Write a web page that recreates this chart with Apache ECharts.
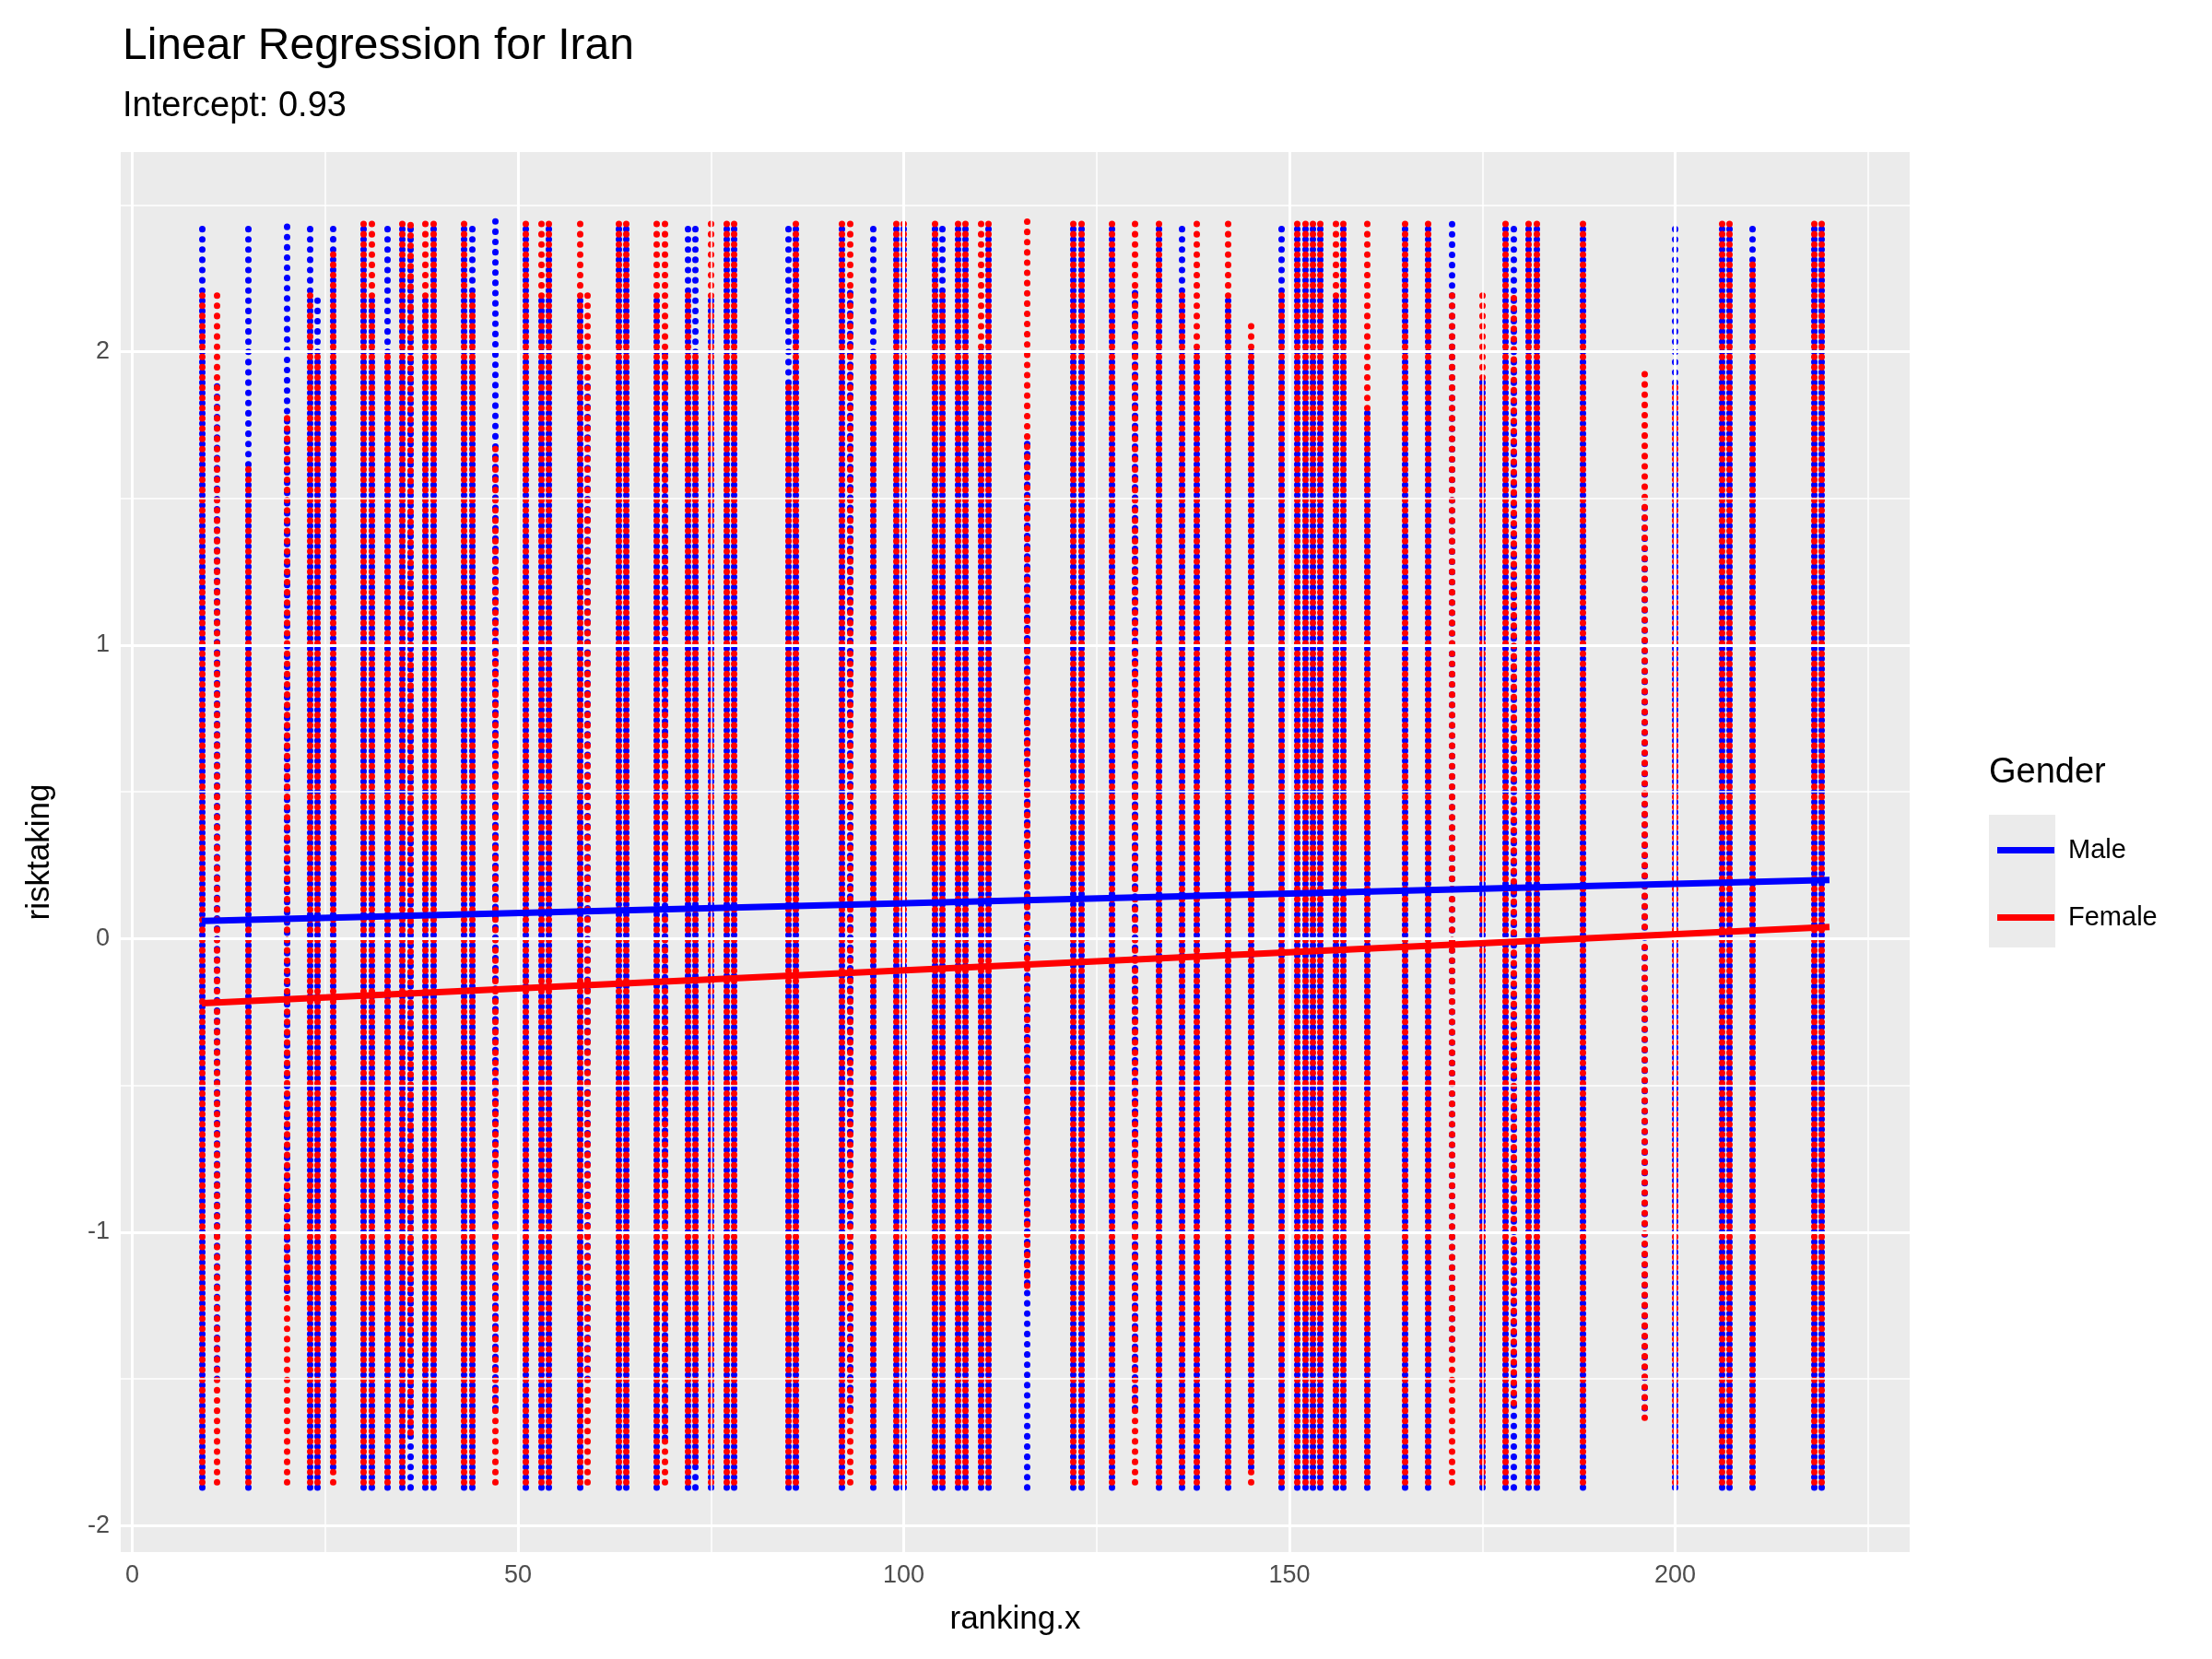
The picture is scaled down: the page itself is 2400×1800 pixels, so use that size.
<!DOCTYPE html>
<html>
<head>
<meta charset="utf-8">
<script src="https://cdn.jsdelivr.net/npm/echarts@6/dist/echarts.min.js"></script>
<style>
  html, body { margin: 0; padding: 0; background: #fff; }
  #chart { width: 2400px; height: 1800px; }
</style>
</head>
<body>
<div id="chart"></div>
<script>
// ranking.x columns and the risktaking spread of each gender in them
const rankings = [9, 11, 15, 20, 23, 24, 26, 30, 31, 33, 35, 36, 38, 39, 43, 44, 47, 51, 53, 54,
  58, 59, 63, 64, 68, 69, 72, 73, 75, 77, 78, 85, 86, 92, 93, 96, 99, 100, 104, 105,
  107, 108, 110, 111, 116, 122, 123, 127, 130, 133, 136, 138, 142, 145, 149, 151, 152, 153, 154, 156,
  157, 160, 165, 168, 171, 175, 178, 179, 181, 182, 188, 196, 200, 206, 207, 210, 218, 219];
const maleMin = [-1.87, -1.5, -1.87, -1.2, -1.87, -1.87, -1.8, -1.87, -1.87, -1.87, -1.87, -1.87, -1.87, -1.87, -1.87, -1.87, -1.6, -1.87, -1.87, -1.87,
  -1.87, -1.5, -1.87, -1.87, -1.87, -1.7, -1.87, -1.87, -1.87, -1.87, -1.87, -1.87, -1.87, -1.87, -1.6, -1.87, -1.87, -1.87, -1.87, -1.87,
  -1.87, -1.87, -1.87, -1.87, -1.87, -1.87, -1.87, -1.87, -1.6, -1.87, -1.87, -1.87, -1.87, -1.8, -1.87, -1.87, -1.87, -1.87, -1.87, -1.87,
  -1.87, -1.87, -1.87, -1.87, -1.4, -1.87, -1.87, -1.87, -1.87, -1.87, -1.87, -1.6, -1.87, -1.87, -1.87, -1.87, -1.87, -1.87];
const maleMax = [2.45, 1.9, 2.45, 2.45, 2.45, 2.2, 2.45, 2.45, 2.2, 2.45, 2.45, 2.45, 2.2, 2.45, 2.45, 2.45, 2.45, 2.45, 2.2, 2.45,
  2.2, 1.9, 2.45, 2.45, 2.2, 2.0, 2.45, 2.45, 2.2, 2.45, 2.45, 2.45, 2.45, 2.45, 2.2, 2.45, 2.45, 2.45, 2.45, 2.45,
  2.45, 2.45, 2.0, 2.45, 1.7, 2.45, 2.45, 2.45, 2.2, 2.45, 2.45, 2.0, 2.2, 2.0, 2.45, 2.45, 2.45, 2.45, 2.45, 2.2,
  2.45, 1.8, 2.45, 2.45, 2.45, 1.9, 2.45, 2.45, 2.45, 2.45, 2.45, 1.5, 2.45, 2.45, 2.45, 2.45, 2.45, 2.45];
const femaleMin = [-1.87, -1.87, -1.87, -1.87, -1.87, -1.87, -1.87, -1.87, -1.87, -1.87, -1.87, -1.7, -1.87, -1.87, -1.87, -1.87, -1.87, -1.87, -1.87, -1.87,
  -1.87, -1.87, -1.87, -1.87, -1.87, -1.87, -1.87, -1.8, -1.87, -1.87, -1.87, -1.87, -1.87, -1.87, -1.87, -1.87, -1.87, -1.87, -1.87, -1.87,
  -1.87, -1.87, -1.87, -1.87, -1.2, -1.87, -1.87, -1.87, -1.87, -1.87, -1.87, -1.87, -1.87, -1.87, -1.87, -1.87, -1.87, -1.87, -1.87, -1.87,
  -1.87, -1.87, -1.87, -1.87, -1.87, -1.87, -1.87, -1.6, -1.87, -1.87, -1.87, -1.65, -1.87, -1.87, -1.87, -1.87, -1.87, -1.87];
const femaleMax = [2.2, 2.2, 1.6, 1.8, 2.2, 2.0, 2.35, 2.45, 2.45, 2.0, 2.45, 2.45, 2.45, 2.45, 2.45, 2.2, 1.7, 2.45, 2.45, 2.45,
  2.45, 2.2, 2.45, 2.45, 2.45, 2.45, 2.2, 2.0, 2.45, 2.45, 2.45, 1.9, 2.45, 2.45, 2.45, 2.0, 2.45, 2.45, 2.45, 2.2,
  2.45, 2.45, 2.45, 2.45, 2.45, 2.45, 2.45, 2.45, 2.45, 2.45, 2.2, 2.45, 2.45, 2.1, 2.2, 2.45, 2.45, 2.45, 2.45, 2.45,
  2.45, 2.45, 2.45, 2.45, 2.2, 2.2, 2.45, 2.2, 2.45, 2.45, 2.45, 1.95, 1.9, 2.45, 2.45, 2.3, 2.45, 2.45];

// fitted lines: [x, y] at the ends
const maleFit = [[9, 0.06], [220, 0.2]];
const femaleFit = [[9, -0.22], [220, 0.04]];

const xMajor = [0, 50, 100, 150, 200];
const xMinor = [25, 75, 125, 175, 225];
const yMajor = [-2, -1, 0, 1, 2];
const yMinor = [-1.5, -0.5, 0.5, 1.5, 2.5];

const chart = echarts.init(document.getElementById('chart'));

function columns(mins, maxs) {
    return rankings.map((x, i) => ({ coords: [[x, mins[i]], [x, maxs[i]]] }));
}

const gridLines = [];
xMinor.forEach(v => gridLines.push({ xAxis: v, lineStyle: { width: 1.5 } }));
yMinor.forEach(v => gridLines.push({ yAxis: v, lineStyle: { width: 1.5 } }));
xMajor.forEach(v => gridLines.push({ xAxis: v, lineStyle: { width: 3 } }));
yMajor.forEach(v => gridLines.push({ yAxis: v, lineStyle: { width: 3 } }));

const font = 'Liberation Sans, Arial, sans-serif';

const option = {
    animation: false,
    backgroundColor: '#ffffff',
    title: {
        text: 'Linear Regression for Iran',
        subtext: 'Intercept: 0.93',
        left: 128,
        top: 22,
        itemGap: 22,
        textStyle: { fontFamily: font, fontSize: 48, fontWeight: 'normal', color: '#000' },
        subtextStyle: { fontFamily: font, fontSize: 38, color: '#000' }
    },
    grid: { left: 131, right: 328, top: 165, bottom: 116, show: true, backgroundColor: '#EBEBEB', borderWidth: 0 },
    xAxis: {
        type: 'value', min: -1.5, max: 230.4,
        name: 'ranking.x', nameLocation: 'middle', nameGap: 56,
        nameTextStyle: { fontFamily: font, fontSize: 35, color: '#000' },
        axisLine: { show: false },
        axisTick: { show: true, customValues: xMajor, length: 8, lineStyle: { color: '#333', width: 2 } },
        axisLabel: { customValues: xMajor, fontFamily: font, fontSize: 27, color: '#4D4D4D', margin: 12 },
        splitLine: { show: false }
    },
    yAxis: {
        type: 'value', min: -2.09, max: 2.68,
        name: 'risktaking', nameLocation: 'middle', nameGap: 70,
        nameTextStyle: { fontFamily: font, fontSize: 35, color: '#000' },
        axisLine: { show: false },
        axisTick: { show: true, customValues: yMajor, length: 8, lineStyle: { color: '#333', width: 2 } },
        axisLabel: { customValues: yMajor, fontFamily: font, fontSize: 27, color: '#4D4D4D', margin: 12 },
        splitLine: { show: false }
    },
    legend: {
        data: ['Male', 'Female'],
        orient: 'vertical',
        left: 2162, top: 903,
        itemWidth: 62, itemHeight: 7, itemGap: 44,
        icon: 'rect',
        textStyle: { fontFamily: font, fontSize: 29, color: '#000', padding: [0, 0, 0, 10] }
    },
    graphic: [
        { type: 'text', left: 2158, top: 820, style: { text: 'Gender', font: '38px ' + font, fill: '#000' } },
        { type: 'rect', z: -1, shape: { x: 2158, y: 884, width: 72, height: 72 }, style: { fill: '#EBEBEB' } },
        { type: 'rect', z: -1, shape: { x: 2158, y: 956, width: 72, height: 72 }, style: { fill: '#EBEBEB' } }
    ],
    series: [
        {
            name: 'grid', type: 'line', data: [], silent: true,
            markLine: {
                silent: true, symbol: 'none', label: { show: false },
                lineStyle: { color: '#ffffff', type: 'solid' },
                data: gridLines
            }
        },
        {
            name: 'MaleDots', type: 'lines', coordinateSystem: 'cartesian2d', silent: true,
            lineStyle: { color: '#0000FF', width: 7, type: [0.1, 11], cap: 'round', opacity: 1 },
            data: columns(maleMin, maleMax)
        },
        {
            name: 'FemaleDots', type: 'lines', coordinateSystem: 'cartesian2d', silent: true,
            lineStyle: { color: '#FF0000', width: 7, type: [0.1, 11], dashOffset: 5.5, cap: 'round', opacity: 1 },
            data: columns(femaleMin, femaleMax)
        },
        {
            name: 'Male', type: 'line', data: maleFit, showSymbol: false, z: 5,
            itemStyle: { color: '#0000FF' }, lineStyle: { color: '#0000FF', width: 7 }
        },
        {
            name: 'Female', type: 'line', data: femaleFit, showSymbol: false, z: 5,
            itemStyle: { color: '#FF0000' }, lineStyle: { color: '#FF0000', width: 7 }
        }
    ]
};

chart.setOption(option);
</script>
</body>
</html>
